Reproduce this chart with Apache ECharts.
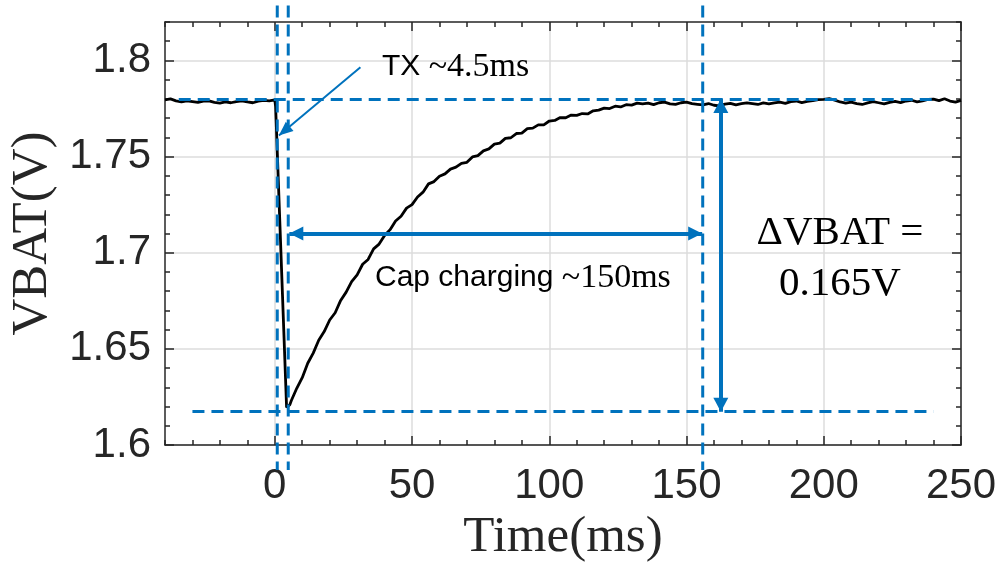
<!DOCTYPE html>
<html>
<head>
<meta charset="utf-8">
<script src="https://cdn.jsdelivr.net/npm/echarts@6/dist/echarts.min.js"></script>
<style>
html, body { margin: 0; padding: 0; background: #fff; }
#chart { width: 1001px; height: 566px; }
</style>
</head>
<body>
<div id="chart"></div>
<script>
// 数据
var timeMs = [-40, -38, -36, -34, -32, -30, -28, -26, -24, -22, -20, -18, -16, -14, -12, -10, -8, -6, -4, -2, 0,
    0.3, 4.3, 4.7, 5.5,
    6, 8, 10, 12, 14, 16, 18, 20, 22, 24, 26, 28, 30, 32, 34, 36, 38, 40, 42, 44, 46, 48, 50,
    52, 54, 56, 58, 60, 62, 64, 66, 68, 70, 72, 74, 76, 78, 80, 82, 84, 86, 88, 90, 92, 94, 96, 98, 100,
    102, 104, 106, 108, 110, 112, 114, 116, 118, 120, 122, 124, 126, 128, 130, 132, 134, 136, 138, 140, 142, 144, 146, 148, 150,
    152, 154, 156, 158, 160, 162, 164, 166, 168, 170, 172, 174, 176, 178, 180, 182, 184, 186, 188, 190, 192, 194, 196, 198, 200,
    202, 204, 206, 208, 210, 212, 214, 216, 218, 220, 222, 224, 226, 228, 230, 232, 234, 236, 238, 240, 242, 244, 246, 248, 250]
var vbat = [1.7795, 1.7800, 1.7790, 1.7785, 1.7790, 1.7786, 1.7782, 1.7788, 1.7790, 1.7782, 1.7778, 1.7784, 1.7780, 1.7786, 1.7790, 1.7784, 1.7780, 1.7788, 1.7792, 1.7790, 1.7795,
    1.7760, 1.6195, 1.6190, 1.6210,
    1.6230, 1.6295, 1.6350, 1.6425, 1.6478, 1.6545, 1.6590, 1.6650, 1.6688, 1.6752, 1.6795, 1.6850, 1.6885, 1.6940, 1.6965, 1.7020, 1.7045, 1.7090, 1.7120, 1.7165, 1.7190, 1.7232, 1.7250,
    1.7290, 1.7315, 1.7358, 1.7370, 1.7398, 1.7410, 1.7435, 1.7445, 1.7465, 1.7470, 1.7498, 1.7505, 1.7530, 1.7540, 1.7565, 1.7570, 1.7595, 1.7598, 1.7620, 1.7622, 1.7645, 1.7648, 1.7665, 1.7665, 1.7685,
    1.7688, 1.7703, 1.7702, 1.7716, 1.7714, 1.7724, 1.7722, 1.7738, 1.7742, 1.7752, 1.7750, 1.7762, 1.7758, 1.7770, 1.7768, 1.7778, 1.7774, 1.7778, 1.7770, 1.7780, 1.7783, 1.7774, 1.7772, 1.7780, 1.7783,
    1.7775, 1.7772, 1.7769, 1.7776, 1.7767, 1.7764, 1.7773, 1.7777, 1.7769, 1.7775, 1.7779, 1.7775, 1.7771, 1.7779, 1.7774, 1.7779, 1.7783, 1.7777, 1.7786, 1.7789, 1.7781, 1.7787, 1.7791, 1.7796, 1.7798,
    1.7801, 1.7794, 1.7784, 1.7778, 1.7783, 1.7775, 1.7771, 1.7779, 1.7786, 1.7780, 1.7774, 1.7782, 1.7787, 1.7781, 1.7789, 1.7793, 1.7785, 1.7790, 1.7797, 1.7799, 1.7791, 1.7801, 1.7789, 1.7783, 1.7792]

var xMajorTicks = [0, 50, 100, 150, 200, 250]
var yMajorTicks = [1.6, 1.65, 1.7, 1.75, 1.8]

// annotation levels
var vHigh = 1.78
var vLow = 1.6173
var vMarkers = [0.9, 4.9, 155.9]   // dashed vertical markers (ms)
var deltaX = 162.5
var chargeArrowY = 1.71
var lineTop = 1.8286
var lineBottom = 1.587

var blue = '#0072BD'
var axisColor = '#262626'
var gridColor = '#dcdcdc'

var myChart = echarts.init(document.getElementById('chart'))

var axisLine = { show: true, onZero: false, lineStyle: { color: axisColor, width: 1.5 } }
var noLine = { show: false, onZero: false }
var tickStyle = { color: axisColor, width: 1.5 }

function majorX(pos, withLabel) {
    return {
        type: 'value', position: pos, min: -40, max: 250,
        axisLine: axisLine,
        axisTick: { inside: true, length: 9, customValues: xMajorTicks, lineStyle: tickStyle },
        axisLabel: withLabel ? {
            customValues: xMajorTicks, margin: 20, fontSize: 42,
            fontFamily: 'Liberation Sans', color: axisColor
        } : { show: false },
        splitLine: { show: withLabel, lineStyle: { color: gridColor, width: 1.5 } }
    }
}
function minorX(pos) {
    return {
        type: 'value', position: pos, min: -40, max: 250, interval: 10,
        axisLine: noLine,
        axisTick: { inside: true, length: 5, lineStyle: tickStyle },
        axisLabel: { show: false },
        splitLine: { show: false }
    }
}
function majorY(pos, withLabel) {
    return {
        type: 'value', position: pos, min: 1.6, max: 1.82,
        axisLine: axisLine,
        axisTick: { inside: true, length: 9, customValues: yMajorTicks, lineStyle: tickStyle },
        axisLabel: withLabel ? {
            customValues: yMajorTicks, margin: 14, fontSize: 42,
            fontFamily: 'Liberation Sans', color: axisColor
        } : { show: false },
        splitLine: { show: withLabel, lineStyle: { color: gridColor, width: 1.5 } }
    }
}
function minorY(pos) {
    return {
        type: 'value', position: pos, min: 1.6, max: 1.82, interval: 0.01,
        axisLine: noLine,
        axisTick: { inside: true, length: 5, lineStyle: tickStyle },
        axisLabel: { show: false },
        splitLine: { show: false }
    }
}

var xBottom = majorX('bottom', true)
xBottom.name = 'Time(ms)'
xBottom.nameLocation = 'middle'
xBottom.nameGap = 62
xBottom.nameTextStyle = { fontFamily: 'Liberation Serif', fontSize: 51, color: axisColor }
var yLeft = majorY('left', true)
yLeft.name = 'VBAT(V)'
yLeft.nameLocation = 'middle'
yLeft.nameGap = 105
yLeft.nameTextStyle = { fontFamily: 'Liberation Serif', fontSize: 51, color: axisColor }

function seg(x1, y1, x2, y2, style, s1, s2) {
    var a = { coord: [x1, y1] }
    var b = { coord: [x2, y2] }
    if (s1) { a.symbol = 'triangle'; a.symbolSize = s1; a.symbolOffset = [0, s1[1] / 2] } else { a.symbol = 'none' }
    if (s2) { b.symbol = 'triangle'; b.symbolSize = s2; b.symbolOffset = [0, s2[1] / 2] } else { b.symbol = 'none' }
    a.lineStyle = style
    return [a, b]
}

var dashedH = { color: blue, width: 3, type: [12, 7] }
var solid = { color: blue, width: 4, type: 'solid' }
var thin = { color: blue, width: 2, type: 'solid' }

var option = {
    animation: false,
    grid: { left: 165, right: 40, top: 22, bottom: 121, outerBoundsMode: 'none' },
    xAxis: [xBottom, minorX('bottom'), majorX('top', false), minorX('top')],
    yAxis: [yLeft, minorY('left'), majorY('right', false), minorY('right')],
    series: [
        {
            name: 'VBAT',
            type: 'line',
            data: timeMs.map(function (t, i) { return [t, vbat[i]] }),
            showSymbol: false,
            lineStyle: { color: '#000', width: 2.8 },
            z: 3
        },
        {
            name: 'annot',
            type: 'line',
            data: [],
            clip: false,
            z: 5,
            markLine: {
                silent: true,
                animation: false,
                label: { show: false },
                emphasis: { disabled: true },
                data: [
                    seg(-35, vHigh, 240, vHigh, dashedH),
                    seg(-30, vLow, 240, vLow, dashedH),
                    seg(5.3, chargeArrowY, 155.7, chargeArrowY, solid, [14, 14], [14, 14]),
                    seg(deltaX, vHigh, deltaX, vLow, solid, [15, 14], [15, 14]),
                    seg(31.2, 1.7965, 1.5, 1.761, thin, null, [12, 14])
                ]
            }
        }
    ],
    graphic: [
        {
            type: 'text', left: 382, top: 50, z: 10,
            style: {
                text: '{s|TX }{r|~4.5ms}', fill: '#000',
                rich: {
                    s: { fontFamily: 'Liberation Sans', fontSize: 30, fill: '#000' },
                    r: { fontFamily: 'Liberation Serif', fontSize: 34, fill: '#000' }
                }
            }
        },
        {
            type: 'text', left: 375, top: 261, z: 10,
            style: {
                text: '{s|Cap charging }{r|~150ms}', fill: '#000',
                rich: {
                    s: { fontFamily: 'Liberation Sans', fontSize: 30, fill: '#000' },
                    r: { fontFamily: 'Liberation Serif', fontSize: 34, fill: '#000' }
                }
            }
        },
        {
            type: 'text', x: 840, y: 233, z: 10,
            style: { text: 'ΔVBAT =', fontFamily: 'Liberation Serif', fontSize: 41, fill: '#000', align: 'center', verticalAlign: 'middle' }
        },
        {
            type: 'text', x: 840, y: 284, z: 10,
            style: { text: '0.165V', fontFamily: 'Liberation Serif', fontSize: 41, fill: '#000', align: 'center', verticalAlign: 'middle' }
        }
    ]
}
myChart.setOption(option)

// vertical dashed markers run past the plot frame, so place them through the axis scale
var markerLines = vMarkers.map(function (t) {
    var p1 = myChart.convertToPixel({ gridIndex: 0 }, [t, lineTop])
    var p2 = myChart.convertToPixel({ gridIndex: 0 }, [t, lineBottom])
    return {
        type: 'line', z: 8, silent: true,
        shape: { x1: p1[0], y1: p1[1], x2: p2[0], y2: p2[1] },
        style: { stroke: blue, lineWidth: 3, lineDash: [12, 7] }
    }
})
myChart.setOption({ graphic: option.graphic.concat(markerLines) })

window.addEventListener('resize', function () {
    myChart.resize()
})
</script>
</body>
</html>
